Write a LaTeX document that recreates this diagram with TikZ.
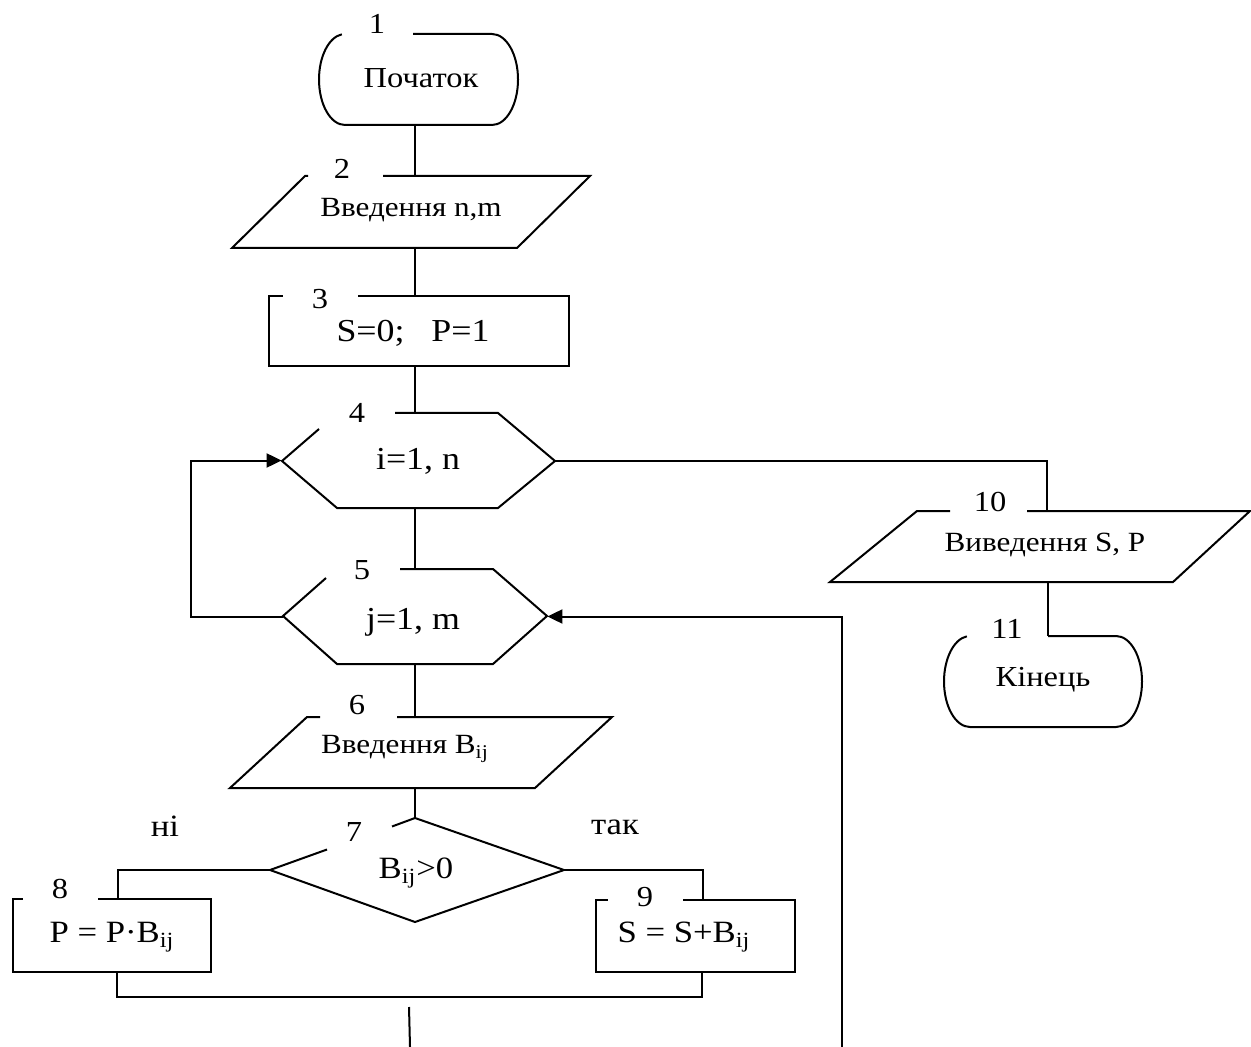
\documentclass[tikz,border=0pt]{standalone}
\usepackage{fontspec}
\setmainfont{Liberation Serif}[FakeStretch=1.12]
\usetikzlibrary{arrows.meta,fit}

\begin{document}
\begin{tikzpicture}[x=0.5pt,y=-0.5pt,
  outline/.style={line width=1pt, line join=miter},
  link/.style={line width=1pt},
  arrowlink/.style={link, -{Triangle[length=7.5pt,width=7pt]}},
  frame/.style={inner sep=0pt, draw=none},
  num/.style={inner sep=0pt, font=\fontsize{14.5}{17}\selectfont},
  termtxt/.style={inner sep=0pt, font=\fontsize{14.5}{17}\selectfont},
  iotxt/.style={inner sep=0pt, font=\fontsize{13.9}{17}\selectfont},
  looptxt/.style={inner sep=0pt, font=\fontsize{16}{19}\selectfont},
  calctxt/.style={inner sep=0pt, font=\fontsize{15.5}{18}\selectfont},
]
\useasboundingbox (0,0) rectangle (1251,1047);

% ---- block frames (used as connector ends) ----
\node[frame, fit={(319,34)(518,125)}]   (b1)  {};
\node[frame, fit={(232,176)(590,248)}]  (b2)  {};
\node[frame, fit={(269,296)(569,366)}]  (b3)  {};
\node[frame, fit={(282,413)(555,508)}]  (b4)  {};
\node[frame, fit={(283,569)(547,664)}]  (b5)  {};
\node[frame, fit={(230,717)(612,788)}]  (b6)  {};
\node[frame, fit={(270,818)(564,922)}]  (b7)  {};
\node[frame, fit={(13,899)(211,972)}]   (b8)  {};
\node[frame, fit={(596,900)(795,972)}]  (b9)  {};
\node[frame, fit={(830,511)(1250,582)}] (b10) {};
\node[frame, fit={(944,636)(1142,727)}] (b11) {};

\coordinate (spine)   at (415,0);
\coordinate (exitcol) at (1047,0);
\coordinate (endcol)  at (1048,0);
\coordinate (join)    at (415,997);
\coordinate (down)    at (409,1007);
\coordinate (downend) at (410,1047);
\coordinate (back)    at (842,1047);

% ---- outlines (each left open where its number sits) ----
% 1: start terminal
\draw[outline] (413,34) -- (492,34)
  arc[start angle=90, end angle=-90, x radius=13pt, y radius=22.75pt]
  -- (345,125)
  arc[start angle=270, end angle=97, x radius=13pt, y radius=22.75pt];
% 2: input
\draw[outline] (383,176) -- (590,176) -- (517,248) -- (232,248) -- (305,176) -- (308,176);
% 3: process
\draw[outline] (358,296) -- (569,296) -- (569,366) -- (269,366) -- (269,296) -- (283,296);
% 4: outer loop
\draw[outline] (395,413) -- (498,413) -- (555,461) -- (498,508) -- (337,508) -- (282,461) -- (319,429);
% 5: inner loop
\draw[outline] (400,569) -- (493,569) -- (547,616) -- (493,664) -- (337,664) -- (283,616) -- (326,578);
% 6: input
\draw[outline] (397,717) -- (612,717) -- (535,788) -- (230,788) -- (307,717) -- (320,717);
% 7: decision
\draw[outline] (392,826.5) -- (415,818) -- (564,870) -- (415,922) -- (270,870) -- (327,849.5);
% 8, 9: processes
\draw[outline] (98,899) -- (211,899) -- (211,972) -- (13,972) -- (13,899) -- (23,899);
\draw[outline] (683,900) -- (795,900) -- (795,972) -- (596,972) -- (596,900) -- (608,900);
% 10: output
\draw[outline] (1027,511) -- (1250,511) -- (1173,582) -- (830,582) -- (917,511) -- (950,511);
% 11: end terminal
\draw[outline] (1048,636) -- (1116,636)
  arc[start angle=90, end angle=-90, x radius=13pt, y radius=22.75pt]
  -- (970,727)
  arc[start angle=270, end angle=97, x radius=13pt, y radius=22.75pt];

% ---- texts ----
\node[termtxt] at (421,78)  {Початок};
\node[iotxt]   at (411,210) {Введення n,m};
\node[looptxt] at (413,333) {S=0;\ \ \ P=1};
\node[looptxt] at (418,461) {i=1, n};
\node[looptxt] at (413,622) {j=1, m};
\node[iotxt]   at (405,749) {Введення B\textsubscript{ij}};
\node[calctxt] at (416,873) {B\textsubscript{ij}>0};
\node[calctxt] at (112,937) {P = P·B\textsubscript{ij}};
\node[calctxt] at (684,937) {S = S+B\textsubscript{ij}};
\node[iotxt]   at (1045,545) {Виведення S, P};
\node[termtxt] at (1043,680) {Кінець};
\node[calctxt] at (165,826) {ні};
\node[calctxt] at (615,827) {так};

% ---- block numbers ----
\node[num] at (377,24)   {1};
\node[num] at (342,169)  {2};
\node[num] at (320,299)  {3};
\node[num] at (357,413)  {4};
\node[num] at (362,570)  {5};
\node[num] at (357,705)  {6};
\node[num] at (354,832)  {7};
\node[num] at (60,889)   {8};
\node[num] at (645,897)  {9};
\node[num] at (990,502)  {10};
\node[num] at (1007,629) {11};

% ---- connectors ----
\draw[link] (b1.south -| spine) -- (b2.north -| spine);
\draw[link] (b2.south -| spine) -- (b3.north -| spine);
\draw[link] (b3.south -| spine) -- (b4.north -| spine);
\draw[link] (b4.south -| spine) -- (b5.north -| spine);
\draw[link] (b5.south -| spine) -- (b6.north -| spine);
\draw[link] (b6.south -| spine) -- (b7.north -| spine);
\draw[link] (b7.west) -| ([xshift=3pt]b8.north);
\draw[link] (b7.east) -| ([xshift=3.75pt]b9.north);
\draw[link] ([xshift=2.5pt]b8.south) |- (join) -| ([xshift=3.25pt]b9.south);
\draw[link] (down) -- (downend);
\draw[arrowlink] (back) |- (b5.east);
\draw[arrowlink] (b5.west) -- ++(-92,0) |- (b4.west);
\draw[link] (b4.east) -| (b10.north -| exitcol);
\draw[link] (b10.south -| endcol) -- (b11.north -| endcol);
\end{tikzpicture}
\end{document}
